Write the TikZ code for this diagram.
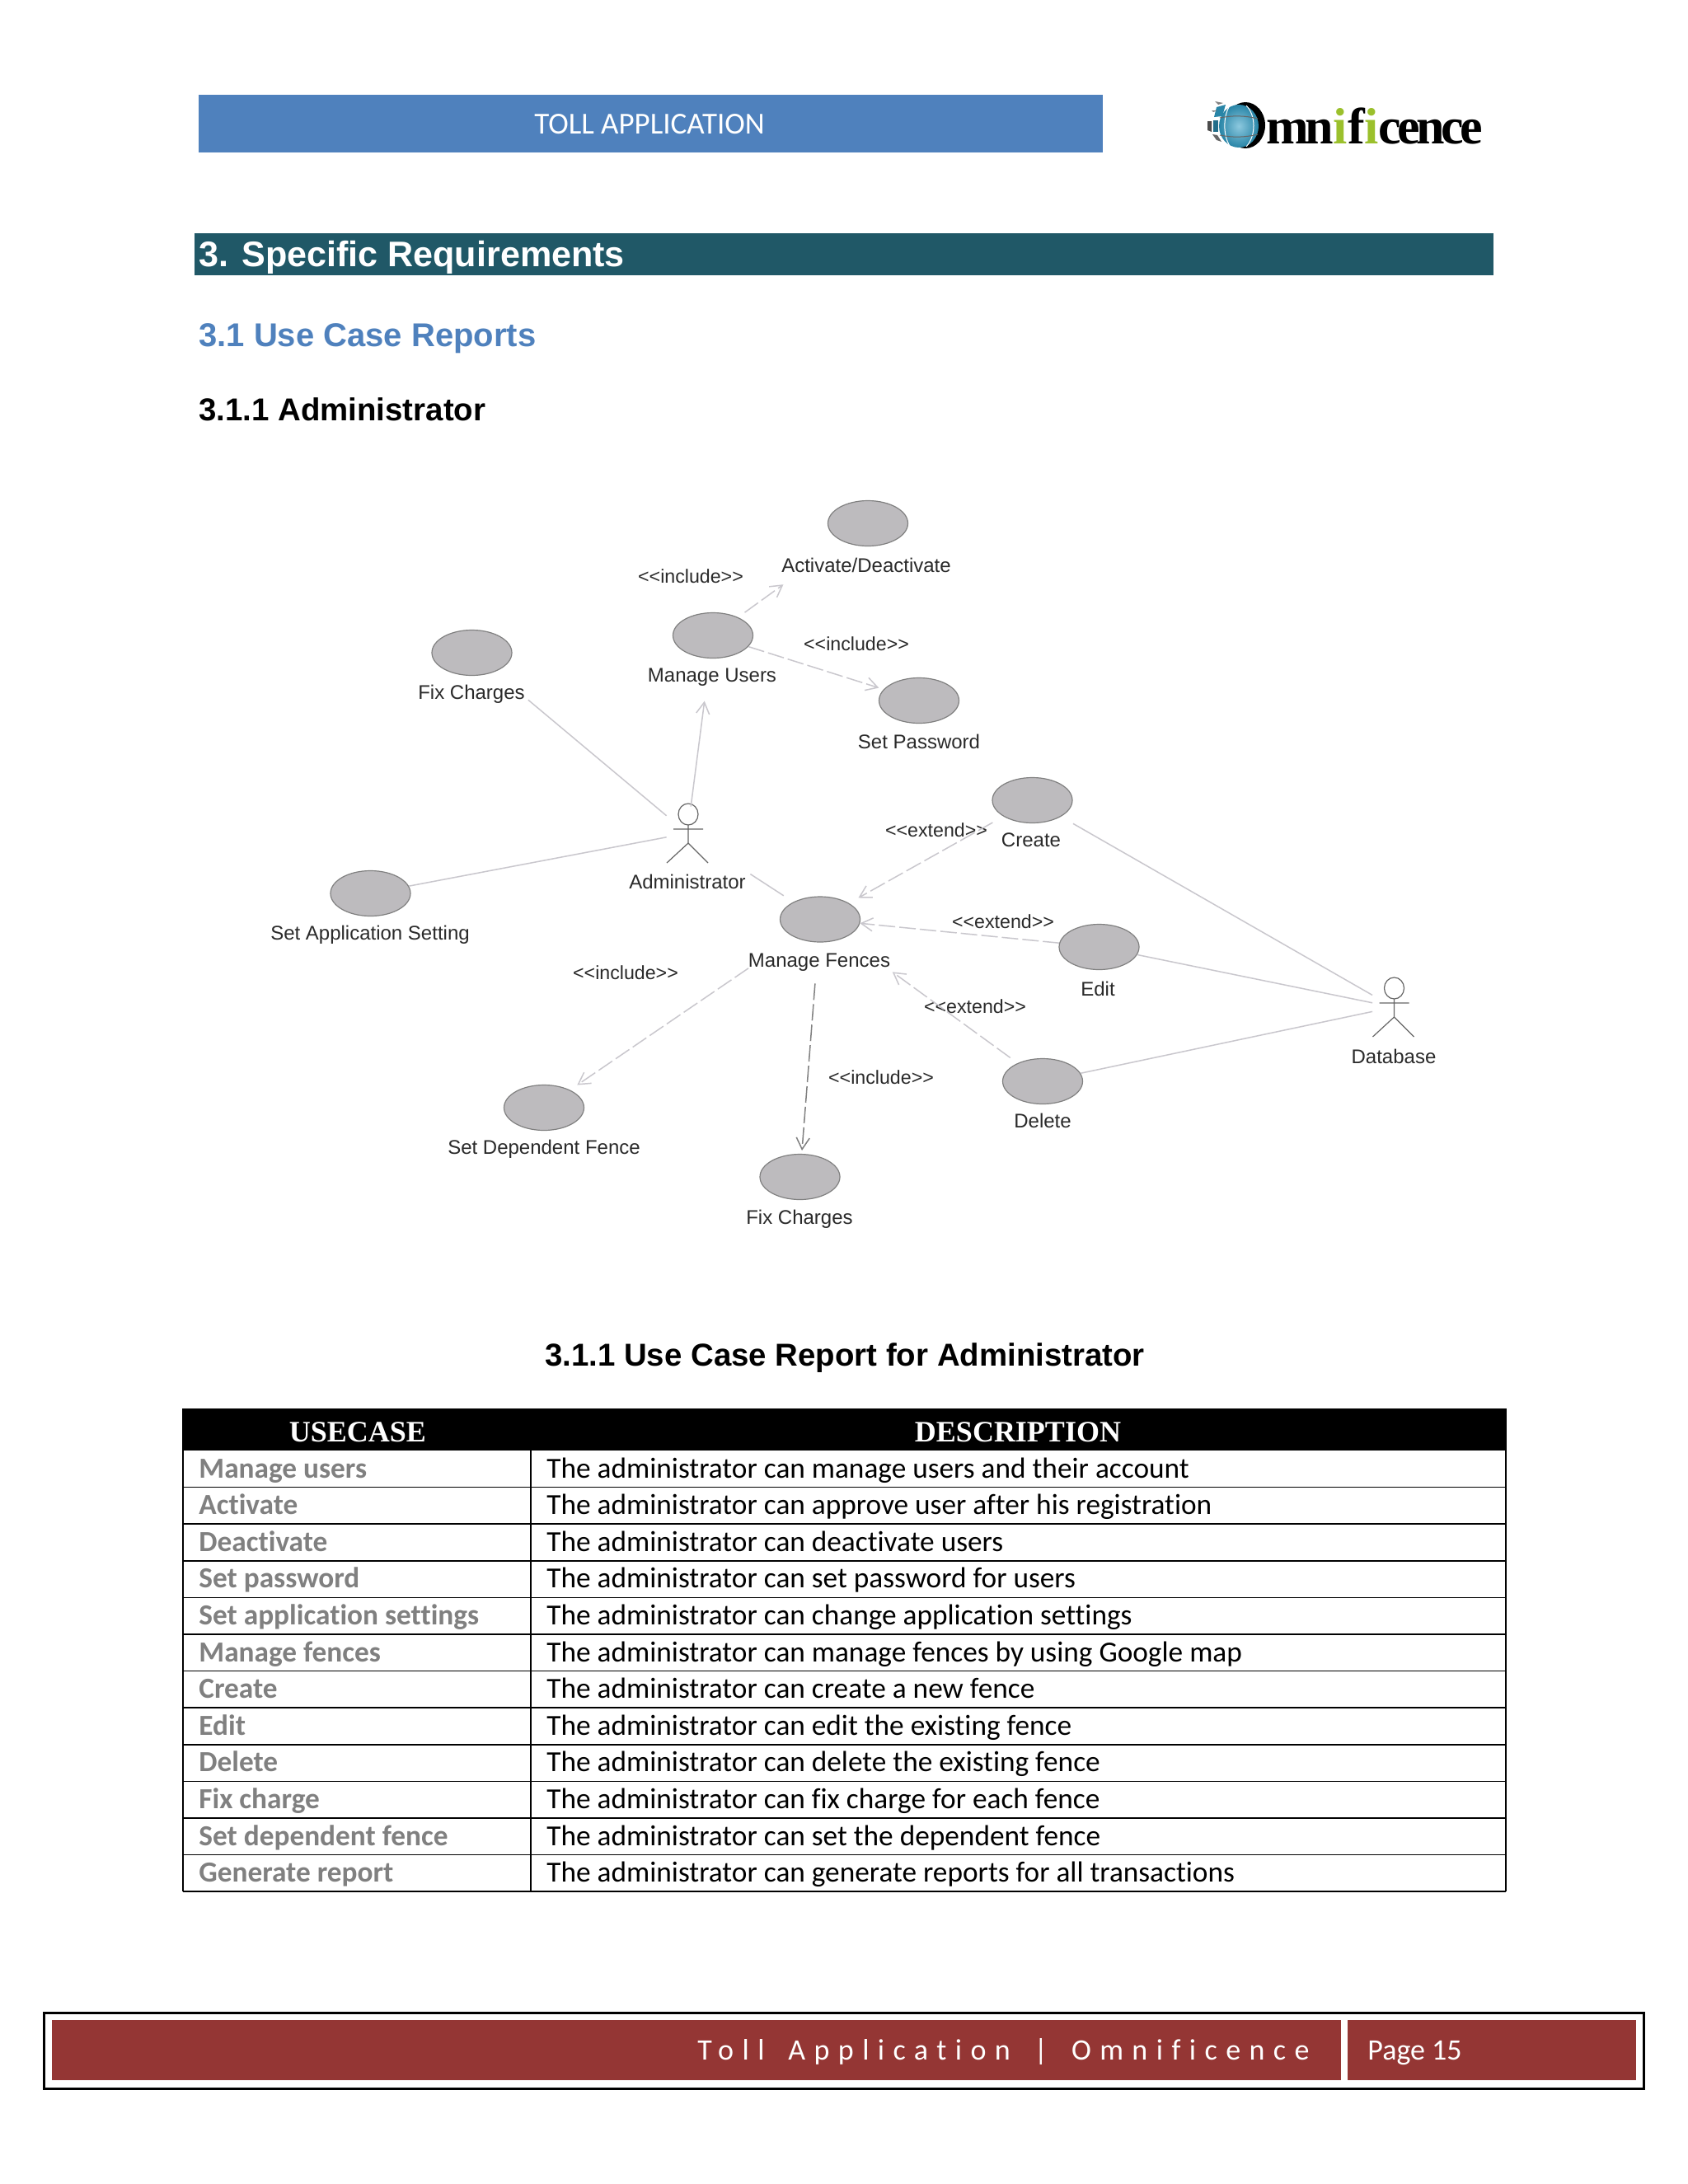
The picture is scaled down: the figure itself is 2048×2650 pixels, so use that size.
\documentclass[tikz,border=0pt]{standalone}
\usepackage{fontspec}
\usetikzlibrary{shapes.geometric,arrows.meta}
\setmainfont{Liberation Sans}
\newfontfamily\arialfont{Liberation Sans}
\newfontfamily\calfont[Ligatures=NoCommon]{Carlito}
\newfontfamily\calspaced[LetterSpace=29,WordSpace=1.55,Ligatures=NoCommon]{Carlito}
\newfontfamily\headfont{Liberation Serif}
\newfontfamily\logofont[LetterSpace=-7.5,Ligatures=NoCommon]{Liberation Serif}
\definecolor{bannerblue}{HTML}{4F81BD}
\definecolor{barteal}{HTML}{205867}
\definecolor{footred}{HTML}{943634}
\definecolor{usegray}{HTML}{BDBBBE}
\definecolor{useedge}{HTML}{808080}
\definecolor{conn}{HTML}{C9C7CD}
\definecolor{difftext}{HTML}{2A2A2A}
\definecolor{rowgray}{HTML}{808080}
\definecolor{logogreen}{HTML}{9BC02C}
\definecolor{globeblue}{HTML}{2F9CC4}
\newcommand\stereo[1]{<{}<#1>{}>}
\tikzset{
 x=0.5pt,y=-0.5pt,
 usecase/.style={ellipse,draw=useedge,fill=usegray,line width=.6pt,inner sep=0pt,minimum width=48.5pt,minimum height=27.5pt},
 umllabel/.style={inner sep=0pt,text=difftext,font=\arialfont\fontsize{12}{14}\selectfont},
 stereolabel/.style={umllabel,font=\arialfont\fontsize{11.6}{14}\selectfont},
 actorbox/.style={inner sep=0pt,minimum width=25pt,minimum height=36pt},
 actorline/.style={draw=useedge!80!black,line width=.6pt},
 assoc/.style={draw=conn,line width=.75pt},
 dep/.style={draw=conn,line width=.75pt,dash pattern=on 10pt off 2.5pt,-{Straight Barb[length=7pt,width=8pt]}},
 darkdep/.style={dep,draw=useedge},
 plainarrow/.style={assoc,-{Straight Barb[length=7pt,width=8pt]}},
 txt/.style={inner sep=0pt,anchor=base west},
 desc/.style={txt,font=\calfont\fontsize{17.65}{20}\selectfont,text=black},
 usename/.style={txt,font=\calfont\bfseries\fontsize{17.65}{20}\selectfont,text=rowgray},
 headcell/.style={inner sep=0pt,anchor=base,text=white,font=\headfont\bfseries\fontsize{18}{22}\selectfont},
 gridline/.style={draw=black,line width=.75pt},
}
\begin{document}
\begin{tikzpicture}
\useasboundingbox (0,0) rectangle (2048,2650);
\fill[white] (0,0) rectangle (2048,2650);
% header
\node[fill=bannerblue,minimum width=548.5pt,minimum height=35pt,inner sep=0pt] (banner) at (789.5,150) {};
\node[inner sep=0pt,anchor=base,text=white,font=\calfont\fontsize{18.5}{20}\selectfont] (bannertext) at (788,162) {TOLL APPLICATION};
% logo
\fill[black] (1511,152) ellipse [x radius=24,y radius=28];
\shade[inner color=globeblue!55!white,outer color=globeblue!85!black] (1503,153) ellipse [x radius=24,y radius=26];
\draw[white,line width=.5pt] (1491,130) .. controls (1484,142) and (1484,165) .. (1492,177);
\draw[white,line width=.5pt] (1512,128) .. controls (1524,140) and (1524,165) .. (1512,178);
\draw[black!60,line width=.5pt] (1480,143) .. controls (1495,140) and (1510,140) .. (1526,144);
\draw[black!60,line width=.5pt] (1480,164) .. controls (1495,167) and (1510,167) .. (1526,163);
\fill[globeblue!85!black] (1476,130) -- (1487,127) -- (1483,141) -- (1473,142) -- cycle;
\fill[black!70] (1465,147) -- (1470,147) -- (1470,160) -- (1465,158) -- cycle;
\fill[globeblue!70!black] (1472,146) -- (1478,146) -- (1478,160) -- (1472,160) -- cycle;
\fill[black!60] (1471,163) -- (1477,164) -- (1482,172) -- (1476,170) -- cycle;
\fill[black!50] (1470,134) -- (1477,134) -- (1472,136) -- cycle;
\fill[black!50] (1474,123) -- (1484,125) -- (1478,127) -- cycle;
\node[txt,font=\logofont\bfseries\fontsize{31}{34}\selectfont] (logotext) at (1536,174) {mn{\color{logogreen}i}f{\color{logogreen}i}cence};
% headings
\node[fill=barteal,minimum width=788pt,minimum height=25.5pt,inner sep=0pt] (secbar) at (1024,308.5) {};
\node[txt,text=white,font=\arialfont\bfseries\fontsize{21.55}{24}\selectfont] (sectitle) at (241,323) {3. Specific Requirements};
\node[txt,text=bannerblue,font=\arialfont\bfseries\fontsize{20}{24}\selectfont] (subtitle) at (241,420) {3.1 Use Case Reports};
\node[txt,text=black,font=\arialfont\bfseries\fontsize{19.2}{24}\selectfont] (subsub) at (241,510) {3.1.1 Administrator};
\node[inner sep=0pt,anchor=base,text=black,font=\arialfont\bfseries\fontsize{19.2}{24}\selectfont] (tabletitle) at (1025,1657) {3.1.1 Use Case Report for Administrator};
% use cases
\node[usecase] (act) at (1053,635) {};
\node[usecase] (mu) at (865,771) {};
\node[usecase] (fix) at (572.5,792) {};
\node[usecase] (setp) at (1115,850) {};
\node[usecase] (create) at (1252.5,971) {};
\node[usecase] (setapp) at (449.5,1084) {};
\node[usecase] (mf) at (995,1115.5) {};
\node[usecase] (edit) at (1333.5,1149) {};
\node[usecase] (del) at (1265,1312) {};
\node[usecase] (setdep) at (660,1344) {};
\node[usecase] (fixb) at (970.5,1428) {};
\node[actorbox] (admin) at (834,1011) {};
\node[actorbox] (db) at (1690.5,1222) {};
\foreach \a in {admin,db}{
 \begin{scope}[shift={(\a.center)}]
 \draw[actorline] (1,-23) ellipse [x radius=12,y radius=13];
 \draw[actorline] (-17,-5) -- (19,-5) (1,-10) -- (1,12) -- (-25,36) (1,12) -- (25,36);
 \end{scope}
}
% labels
\node[umllabel] (lact) at (1051,686) {Activate/Deactivate};
\node[umllabel] (lmu) at (864,822) {Manage Users};
\node[umllabel] (lfix) at (572,842) {Fix Charges};
\node[umllabel] (lsetp) at (1115,900) {Set Password};
\node[umllabel] (lcreate) at (1251,1019) {Create};
\node[umllabel] (ladmin) at (834,1070) {Administrator};
\node[umllabel] (lsetapp) at (449,1134) {Set Application Setting};
\node[umllabel] (lmf) at (994,1168) {Manage Fences};
\node[umllabel] (ledit) at (1332,1200) {Edit};
\node[umllabel] (ldb) at (1691,1282) {Database};
\node[umllabel] (ldel) at (1265,1360) {Delete};
\node[umllabel] (lsetdep) at (660,1394) {Set Dependent Fence};
\node[umllabel] (lfixb) at (970,1479) {Fix Charges};
\node[stereolabel] (s1) at (838,699) {\stereo{include}};
\node[stereolabel] (s2) at (1039,781) {\stereo{include}};
\node[stereolabel] (s3) at (1136,1007) {\stereo{extend}};
\node[stereolabel] (s4) at (1217,1118) {\stereo{extend}};
\node[stereolabel] (s5) at (759,1180) {\stereo{include}};
\node[stereolabel] (s6) at (1183,1221) {\stereo{extend}};
\node[stereolabel] (s7) at (1069,1307) {\stereo{include}};
% connectors
\draw[assoc,shorten <=26.5pt] (fix) -- (admin);
\draw[plainarrow,shorten <=-2pt,shorten >=26pt] (admin) -- (mu);
\draw[assoc] (setapp) -- (admin);
\draw[assoc,shorten <=30.4pt,shorten >=7pt] (admin) -- (mf);
\draw[dep,shorten <=5pt,shorten >=44.5pt] (mu) -- (act);
\draw[dep,shorten >=3pt] (mu) -- (setp);
\draw[dep,shorten <=7.5pt,shorten >=6.5pt] (create) -- (mf);
\draw[dep] (edit) -- (mf);
\draw[dep,shorten <=5.5pt,shorten >=35.5pt] (del) -- (mf);
\draw[dep,shorten <=33.5pt,shorten >=5.3pt] (mf) -- (setdep);
\draw[darkdep,shorten <=25pt,shorten >=2pt] (mf) -- (fixb);
\draw[assoc,shorten <=8.5pt] (create) -- (db);
\draw[assoc] (edit) -- (db);
\draw[assoc] (del) -- (db);
% table
\fill[black] (222,1710) rectangle (1827,1760);
\node[headcell] (hu) at (434,1749) {USECASE};
\node[headcell] (hd) at (1235,1749) {DESCRIPTION};
\draw[gridline] (222,1710) rectangle (1827,2294.5);
\draw[gridline] (644,1760) -- (644,2294.5);
\foreach \i/\u/\d in {
 1/Manage users/The administrator can manage users and their account,
 2/Activate/The administrator can approve user after his registration,
 3/Deactivate/The administrator can deactivate users,
 4/Set password/The administrator can set password for users,
 5/Set application settings/The administrator can change application settings,
 6/Manage fences/The administrator can manage fences by using Google map,
 7/Create/The administrator can create a new fence,
 8/Edit/The administrator can edit the existing fence,
 9/Delete/The administrator can delete the existing fence,
 10/Fix charge/The administrator can fix charge for each fence,
 11/Set dependent fence/The administrator can set the dependent fence,
 12/Generate report/The administrator can generate reports for all transactions}{
 \pgfmathsetmacro\by{1793+44.6*(\i-1)}
 \pgfmathsetmacro\ly{1760+44.6*\i}
 \node[usename] (u\i) at (241,\by) {\u};
 \node[desc] (d\i) at (663,\by) {\d};
 \draw[gridline] (222,\ly) -- (1827,\ly);
}
% footer
\draw[black,line width=1.5pt] (53,2442) rectangle (1994,2534);
\node[fill=footred,minimum width=782pt,minimum height=36.5pt,inner sep=0pt] (footl) at (845,2487.5) {};
\node[fill=footred,minimum width=175pt,minimum height=36.5pt,inner sep=0pt] (footr) at (1810,2487.5) {};
\node[txt,text=white,font=\calspaced\fontsize{18}{20}\selectfont] (foottext) at (846,2499) {Toll Application | Omnificence};
\node[txt,text=white,font=\calfont\fontsize{18}{20}\selectfont] (pagetext) at (1659,2499) {Page 15};
\end{tikzpicture}
\end{document}
